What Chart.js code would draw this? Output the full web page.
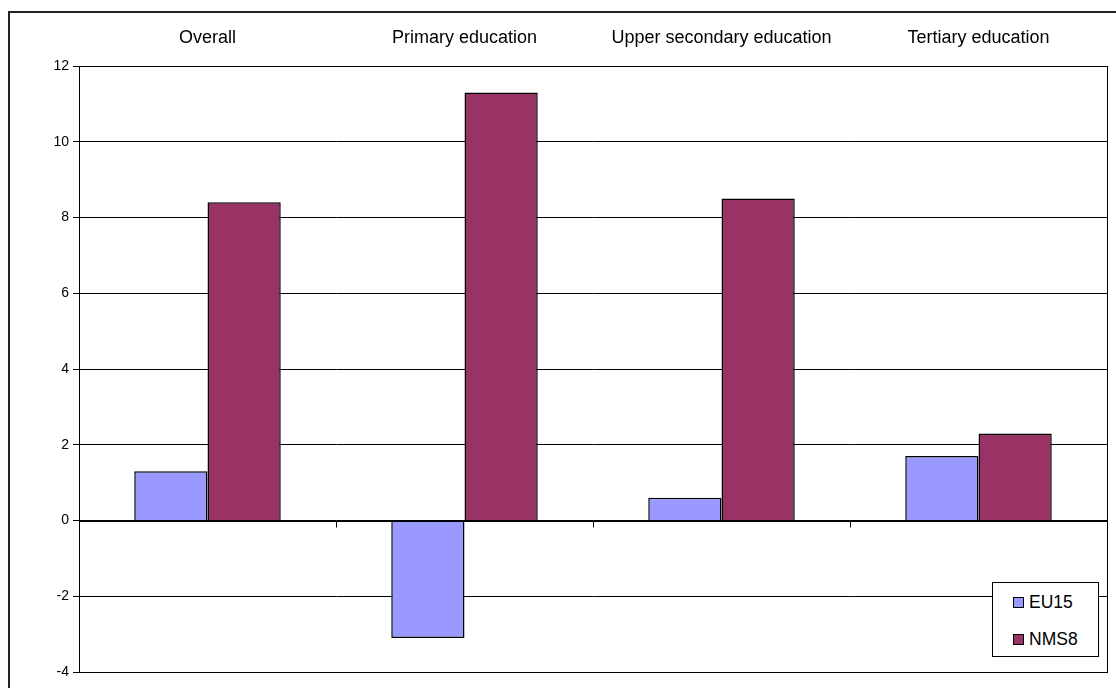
<!DOCTYPE html>
<html>
<head>
<meta charset="utf-8">
<script src="https://cdn.jsdelivr.net/npm/chart.js@4/dist/chart.umd.min.js"></script>
<style>
  html, body { margin: 0; padding: 0; background: #fff; }
  body { width: 1116px; height: 688px; position: relative; overflow: hidden; font-family: "Liberation Sans", Arial, sans-serif; }
  #frame { position: absolute; left: 8px; top: 11px; width: 1200px; height: 800px; border: 2px solid #222; box-sizing: border-box; }
  #wrap { position: absolute; left: 0; top: 0; width: 1116px; height: 688px; }
  #legend { position: absolute; left: 992px; top: 582px; width: 107px; height: 75px; box-sizing: border-box;
            border: 1px solid #000; background: #fff; font-size: 17.5px; color: #000; }
  #legend div { position: absolute; left: 20px; height: 20px; line-height: 20px; display: flex; align-items: center; }
  #legend span.sw { display: inline-block; width: 9px; height: 9px; border: 1px solid #000; margin-right: 5px; }
</style>
</head>
<body>
<div id="frame"></div>
<div id="wrap"><canvas id="chart" width="1116" height="688"></canvas></div>
<div id="legend"></div>
<script>
const categories = ['Overall', 'Primary education', 'Upper secondary education', 'Tertiary education'];
const seriesNames = ['EU15', 'NMS8'];
const eu15 = [1.3, -3.1, 0.6, 1.7];
const nms8 = [8.4, 11.3, 8.5, 2.3];
const colors = ['#9999FF', '#993366'];
const yMin = -4, yMax = 12, yStep = 2;

// zero line, category tick marks and plot border, all taken from the scales
const plotFrame = {
  id: 'plotFrame',
  afterDatasetsDraw(chart) {
    const { ctx, chartArea: a, scales: { x, y } } = chart;
    ctx.save();
    ctx.strokeStyle = '#000';
    ctx.lineWidth = 1;
    const y0 = Math.round(y.getPixelForValue(0)) + 0.5;
    ctx.beginPath();
    ctx.moveTo(a.left, y0);
    ctx.lineTo(a.right, y0);
    const half = (x.getPixelForValue(1) - x.getPixelForValue(0)) / 2;
    for (let i = 1; i < categories.length; i++) {
      const px = Math.round(x.getPixelForValue(i) - half) + 0.5;
      ctx.moveTo(px, y0);
      ctx.lineTo(px, y0 + 6);
    }
    ctx.stroke();
    ctx.strokeRect(Math.round(a.left) + 0.5, Math.round(a.top) + 0.5,
                   Math.round(a.right - a.left), Math.round(a.bottom - a.top));
    ctx.restore();
  }
};

const chart = new Chart(document.getElementById('chart'), {
  type: 'bar',
  data: {
    labels: categories,
    datasets: [
      { label: seriesNames[0], data: eu15, backgroundColor: colors[0], borderColor: '#000', borderWidth: 1.5 },
      { label: seriesNames[1], data: nms8, backgroundColor: colors[1], borderColor: '#000', borderWidth: 1.5 }
    ]
  },
  options: {
    responsive: false,
    animation: false,
    layout: { padding: { left: 0, top: 0, right: 9, bottom: 16 } },
    categoryPercentage: 0.57,
    barPercentage: 1,
    plugins: { legend: { display: false }, tooltip: { enabled: false } },
    scales: {
      x: {
        position: 'top',
        grid: { display: false, drawTicks: false },
        border: { display: false },
        ticks: { color: '#000', font: { family: 'Liberation Sans', size: 18 }, padding: 17, maxRotation: 0 },
        afterFit(scale) { scale.height = 66; }
      },
      y: {
        min: yMin,
        max: yMax,
        ticks: { stepSize: yStep, color: '#000', font: { family: 'Liberation Sans', size: 14 }, padding: 4 },
        grid: { color: '#000', lineWidth: 1, tickLength: 6, tickColor: '#000' },
        border: { color: '#000' },
        afterFit(scale) { scale.width = 79; }
      }
    }
  },
  plugins: [plotFrame]
});

const legend = document.getElementById('legend');
const rowTops = [9, 46];
seriesNames.forEach((name, i) => {
  const row = document.createElement('div');
  row.style.top = rowTops[i] + 'px';
  row.innerHTML = '<span class="sw" style="background:' + colors[i] + '"></span>' + name;
  legend.appendChild(row);
});
</script>
</body>
</html>
